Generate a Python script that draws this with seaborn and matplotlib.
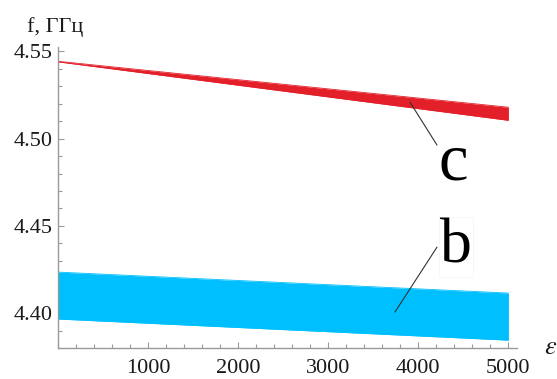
import matplotlib
matplotlib.use("Agg")
import matplotlib.pyplot as plt
from matplotlib import font_manager as fm
from matplotlib.ticker import MultipleLocator, FixedLocator
import seaborn as sns
import pandas as pd

# Permittivity grid and frequency bands (GHz)
eps = [0, 5000]
c_upper = [4.5443, 4.5180]
c_lower = [4.5440, 4.5105]
b_upper = [4.4235, 4.4115]
b_lower = [4.3966, 4.3845]

x_ticks = [1000, 2000, 3000, 4000, 5000]
y_ticks = [4.40, 4.45, 4.50, 4.55]

RED = "#E3202A"
BLUE = "#00BFFF"
AXIS = "#9a9a9a"
INK = "#1a1a1a"

sns.set_theme(style="white")
plt.rcParams["font.family"] = ["Liberation Serif", "DejaVu Serif"]
plt.rcParams["mathtext.fontset"] = "stix"

SERIF = fm.findfont("Liberation Serif")


def serif(size):
    return fm.FontProperties(fname=SERIF, size=size)


fig = plt.figure(figsize=(5.57, 3.79), dpi=100)
ax = fig.add_axes([58 / 557, 31 / 379, 459 / 557, 301 / 379])

df = pd.DataFrame({"eps": eps, "c_up": c_upper, "c_lo": c_lower,
                   "b_up": b_upper, "b_lo": b_lower})

for up, lo, col in [("c_up", "c_lo", RED), ("b_up", "b_lo", BLUE)]:
    sns.lineplot(data=df, x="eps", y=up, ax=ax, color=col, lw=0.6)
    sns.lineplot(data=df, x="eps", y=lo, ax=ax, color=col, lw=0.6)
    ax.fill_between(df["eps"], df[lo], df[up], color=col, lw=0)
    ax.plot([df["eps"].iloc[-1]] * 2, [df[lo].iloc[-1], df[up].iloc[-1]],
            color=col, lw=0.6)

ax.set_xlim(0, 5100)
ax.set_ylim(4.38, 4.5525)
ax.set_xlabel("")
ax.set_ylabel("")

for side in ("top", "right"):
    ax.spines[side].set_visible(False)
for side in ("left", "bottom"):
    ax.spines[side].set_color(AXIS)
    ax.spines[side].set_linewidth(1.0)

ax.xaxis.set_major_locator(FixedLocator(x_ticks))
ax.xaxis.set_minor_locator(MultipleLocator(200))
ax.yaxis.set_major_locator(FixedLocator(y_ticks))
ax.yaxis.set_minor_locator(MultipleLocator(0.01))
ax.set_yticklabels([f"{v:.2f}" for v in y_ticks])
ax.set_xticklabels([str(v) for v in x_ticks])

ax.tick_params(which="both", direction="in", color=AXIS, width=0.8,
               labelcolor=INK, bottom=True, left=True)
ax.tick_params(which="major", length=4.5)
ax.tick_params(which="minor", length=2.8)
ax.tick_params(axis="x", which="major", pad=8)
ax.tick_params(axis="y", which="major", pad=4)
for lab in ax.get_xticklabels() + ax.get_yticklabels():
    lab.set_fontproperties(serif(16))

# Curve labels with leader lines
ax.plot([3911, 4211], [4.5209, 4.4963], color="#333333", lw=0.8)
ax.text(4389, 4.486, "c", fontproperties=serif(48), ha="center",
        va="center", color="black")
ax.plot([4211, 3744], [4.4378, 4.4006], color="#333333", lw=0.8)
ax.text(4422, 4.4378, "b", fontproperties=serif(46), ha="center",
        va="center", color="black",
        bbox=dict(facecolor="white", edgecolor="#f4f4f4", lw=0.5, pad=1))

# Axis titles
fig.text(27 / 557, 1 - 32 / 379, "f, ГГц", fontproperties=serif(16),
         ha="left", va="baseline", color=INK)
fig.text(544 / 557, 31 / 379, r"$\varepsilon$", fontsize=19, ha="left",
         va="center", color=INK)

fig.savefig("out.png", dpi=100)
